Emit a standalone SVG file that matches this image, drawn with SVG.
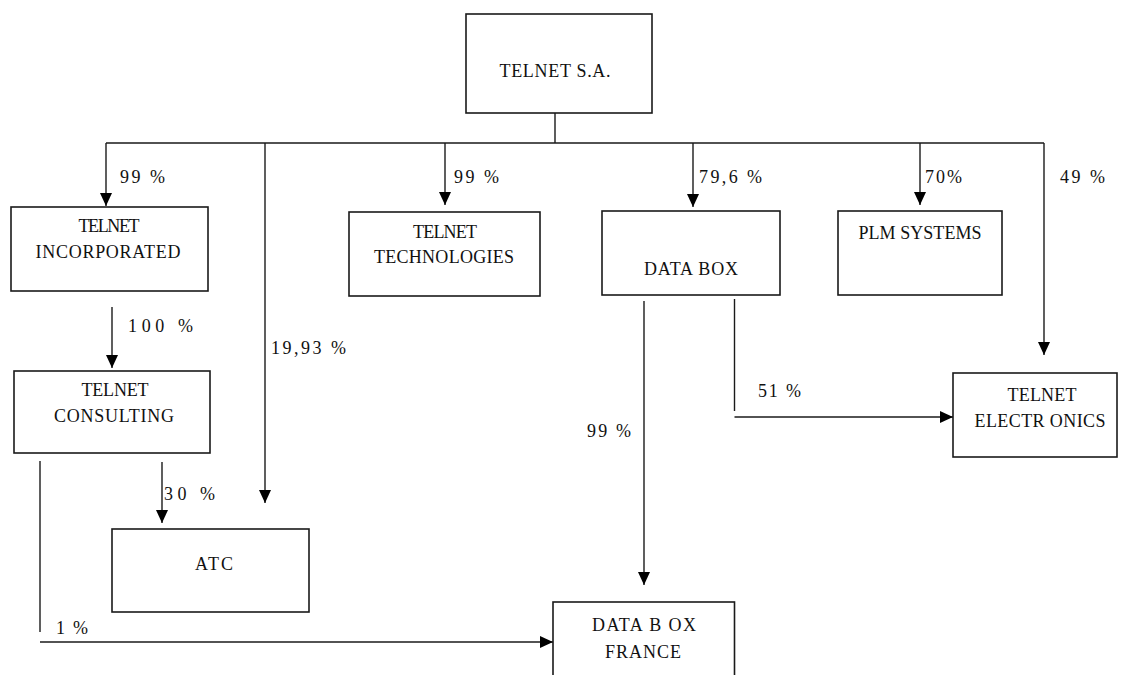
<svg xmlns="http://www.w3.org/2000/svg" width="1123" height="675" viewBox="0 0 1123 675">
<defs>
<marker id="ah" markerUnits="userSpaceOnUse" markerWidth="14" markerHeight="14" viewBox="0 0 14 12" refX="13" refY="6" orient="auto">
<path d="M0,0 L13,6 L0,12 Z" fill="#000"/>
</marker>
</defs>
<style>
rect{fill:#fff;stroke:#1a1a1a;stroke-width:1.6}
text{font-family:'Liberation Serif','Times New Roman','DejaVu Serif',serif;font-size:18px;fill:#111}
.c{text-anchor:middle}
.ln{fill:none;stroke:#1a1a1a;stroke-width:1.4}
.ar{marker-end:url(#ah)}
</style>
<rect width="1123" height="675" style="fill:#fff;stroke:none"/>
<g id="connectors">
<path class="ln" d="M555,113 V143 M106,143 H1044"/>
<path class="ln ar" d="M106,143 V206"/>
<path class="ln ar" d="M265,143 V503"/>
<path class="ln ar" d="M445,143 V205"/>
<path class="ln ar" d="M693,143 V207"/>
<path class="ln ar" d="M920,143 V205"/>
<path class="ln ar" d="M1044,143 V355"/>
<path class="ln ar" d="M112,307 V368"/>
<path class="ln ar" d="M162,462 V523"/>
<path class="ln" d="M40,461 V632"/>
<path class="ln ar" d="M40,642 H553"/>
<path class="ln ar" d="M644,301 V585"/>
<path class="ln" d="M734.5,299 V411"/>
<path class="ln ar" d="M734.5,417 H953"/>
<text x="120" y="183" textLength="45" lengthAdjust="spacing">99 %</text>
<text x="454" y="183" textLength="45" lengthAdjust="spacing">99 %</text>
<text x="699" y="183" textLength="63" lengthAdjust="spacing">79,6 %</text>
<text x="925" y="183" textLength="37" lengthAdjust="spacing">70%</text>
<text x="1060" y="183" textLength="45" lengthAdjust="spacing">49 %</text>
<text x="128" y="332" textLength="65" lengthAdjust="spacing">100 %</text>
<text x="271" y="354" textLength="75" lengthAdjust="spacing">19,93 %</text>
<text x="164" y="500" textLength="51" lengthAdjust="spacing">30 %</text>
<text x="56" y="634" textLength="32" lengthAdjust="spacing">1 %</text>
<text x="758" y="397" textLength="43" lengthAdjust="spacing">51 %</text>
<text x="587" y="437" textLength="44" lengthAdjust="spacing">99 %</text>
</g>
<g id="telnet-sa">
<rect x="466" y="14" width="186" height="99"/>
<text class="c" x="555" y="77" textLength="111" lengthAdjust="spacing">TELNET S.A.</text>
</g>
<g id="telnet-incorporated">
<rect x="11" y="207" width="197" height="84"/>
<text class="c" x="109" y="232" textLength="61" lengthAdjust="spacing">TELNET</text>
<text class="c" x="108" y="258" textLength="145" lengthAdjust="spacing">INCORPORATED</text>
</g>
<g id="telnet-technologies">
<rect x="349" y="212" width="191" height="84"/>
<text class="c" x="445" y="238" textLength="64" lengthAdjust="spacing">TELNET</text>
<text class="c" x="444" y="263" textLength="140" lengthAdjust="spacing">TECHNOLOGIES</text>
</g>
<g id="data-box">
<rect x="602" y="211" width="178" height="84"/>
<text class="c" x="691" y="275" textLength="94" lengthAdjust="spacing">DATA BOX</text>
</g>
<g id="plm-systems">
<rect x="838" y="211" width="164" height="84"/>
<text class="c" x="920" y="239" textLength="123" lengthAdjust="spacing">PLM SYSTEMS</text>
</g>
<g id="telnet-electronics">
<rect x="953" y="373" width="164" height="84"/>
<text class="c" x="1042" y="401" textLength="69" lengthAdjust="spacing">TELNET</text>
<text class="c" x="1040" y="427" textLength="131" lengthAdjust="spacing">ELECTR ONICS</text>
</g>
<g id="telnet-consulting">
<rect x="14" y="371" width="196" height="82"/>
<text class="c" x="115" y="396" textLength="67" lengthAdjust="spacing">TELNET</text>
<text class="c" x="114" y="422" textLength="120" lengthAdjust="spacing">CONSULTING</text>
</g>
<g id="atc">
<rect x="112" y="529" width="197" height="83"/>
<text class="c" x="214" y="570" textLength="38" lengthAdjust="spacing">ATC</text>
</g>
<g id="data-box-france">
<rect x="553" y="602" width="181.5" height="90"/>
<text class="c" x="644" y="631" textLength="104" lengthAdjust="spacing">DATA B OX</text>
<text class="c" x="643" y="658" textLength="76" lengthAdjust="spacing">FRANCE</text>
</g>
</svg>
